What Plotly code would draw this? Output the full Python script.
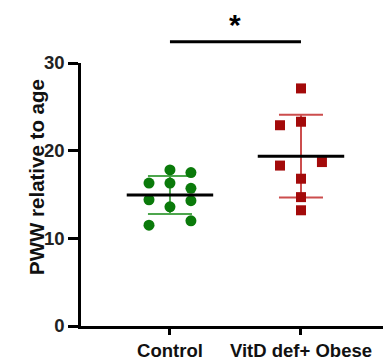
import numpy as np
import plotly.graph_objects as go

categories = ["Control", "VitD def+ Obese"]
control_vals = [17.8, 17.5, 16.3, 16.3, 15.7, 14.4, 14.3, 13.6, 12.0, 11.5]
obese_vals = [27.1, 23.3, 22.9, 18.7, 18.3, 16.8, 14.7, 13.2]
y_ticks = [0, 10, 20, 30]
y_title = "PWW relative to age"
sig_label = "*"

# horizontal scatter of points within each column (layout, not data)
control_jit = [0, 0.16, -0.16, 0, 0.16, -0.16, 0.16, 0, 0.16, -0.16]
obese_jit = [0, 0, -0.16, 0.16, -0.16, 0, 0, 0]

groups = [
    (control_vals, control_jit, "#0a7a0a", "#4da64d", "circle", 11),
    (obese_vals, obese_jit, "#a30a0a", "#cc4d4d", "square", 10),
]

fig = go.Figure()
mean_hw = 0.33
cap_hw = 0.168
for i, (vals, jit, col, lcol, sym, sz) in enumerate(groups):
    v = np.array(vals)
    m = v.mean()
    sd = v.std(ddof=1)
    # SD bar
    fig.add_trace(go.Scatter(
        x=[i - cap_hw, i + cap_hw, None, i, i, None, i - cap_hw, i + cap_hw],
        y=[m + sd, m + sd, None, m + sd, m - sd, None, m - sd, m - sd],
        mode="lines", line=dict(color=lcol, width=2), hoverinfo="skip", showlegend=False))
    fig.add_trace(go.Scatter(
        x=[i + j for j in jit], y=vals, mode="markers",
        marker=dict(symbol=sym, size=sz, color=col, line=dict(width=0)),
        showlegend=False, cliponaxis=False))
    fig.add_trace(go.Scatter(
        x=[i - mean_hw, i + mean_hw], y=[m, m], mode="lines",
        line=dict(color="black", width=3), hoverinfo="skip", showlegend=False))

fig.add_shape(type="line", xref="x", yref="paper", x0=0, x1=1, y0=1.081, y1=1.081,
              line=dict(color="black", width=3))
fig.add_annotation(x=0.5, xref="x", y=1.215, yref="paper", text=sig_label, showarrow=False,
                   font=dict(family="Liberation Sans", size=30, color="black", weight="bold"))
fig.add_annotation(x=-0.19, xref="paper", y=0.567, yref="paper", text=y_title, textangle=-90,
                   showarrow=False,
                   font=dict(family="Liberation Sans", size=20.5, color="#111", weight="bold"))

fig.update_layout(
    width=383, height=361,
    margin=dict(l=81, r=0, t=63, b=35),
    plot_bgcolor="white", paper_bgcolor="white",
    showlegend=False,
    xaxis=dict(range=[-0.679, 1.626], tickvals=[0, 1], ticktext=categories,
               showgrid=False, zeroline=False, showline=True, linecolor="black", linewidth=2.5,
               ticks="outside", ticklen=6, tickwidth=2.5, tickcolor="black",
               tickfont=dict(family="Liberation Sans", size=18.5, color="#111", weight="bold")),
    yaxis=dict(range=[0, 30], tickvals=y_ticks, showgrid=False, zeroline=False,
               showline=True, linecolor="black", linewidth=2.5,
               ticks="outside", ticklen=10, tickwidth=2.5, tickcolor="black",
               tickfont=dict(family="Liberation Sans", size=18.5, color="#222", weight="bold")),
)

fig.write_html("out.html")
